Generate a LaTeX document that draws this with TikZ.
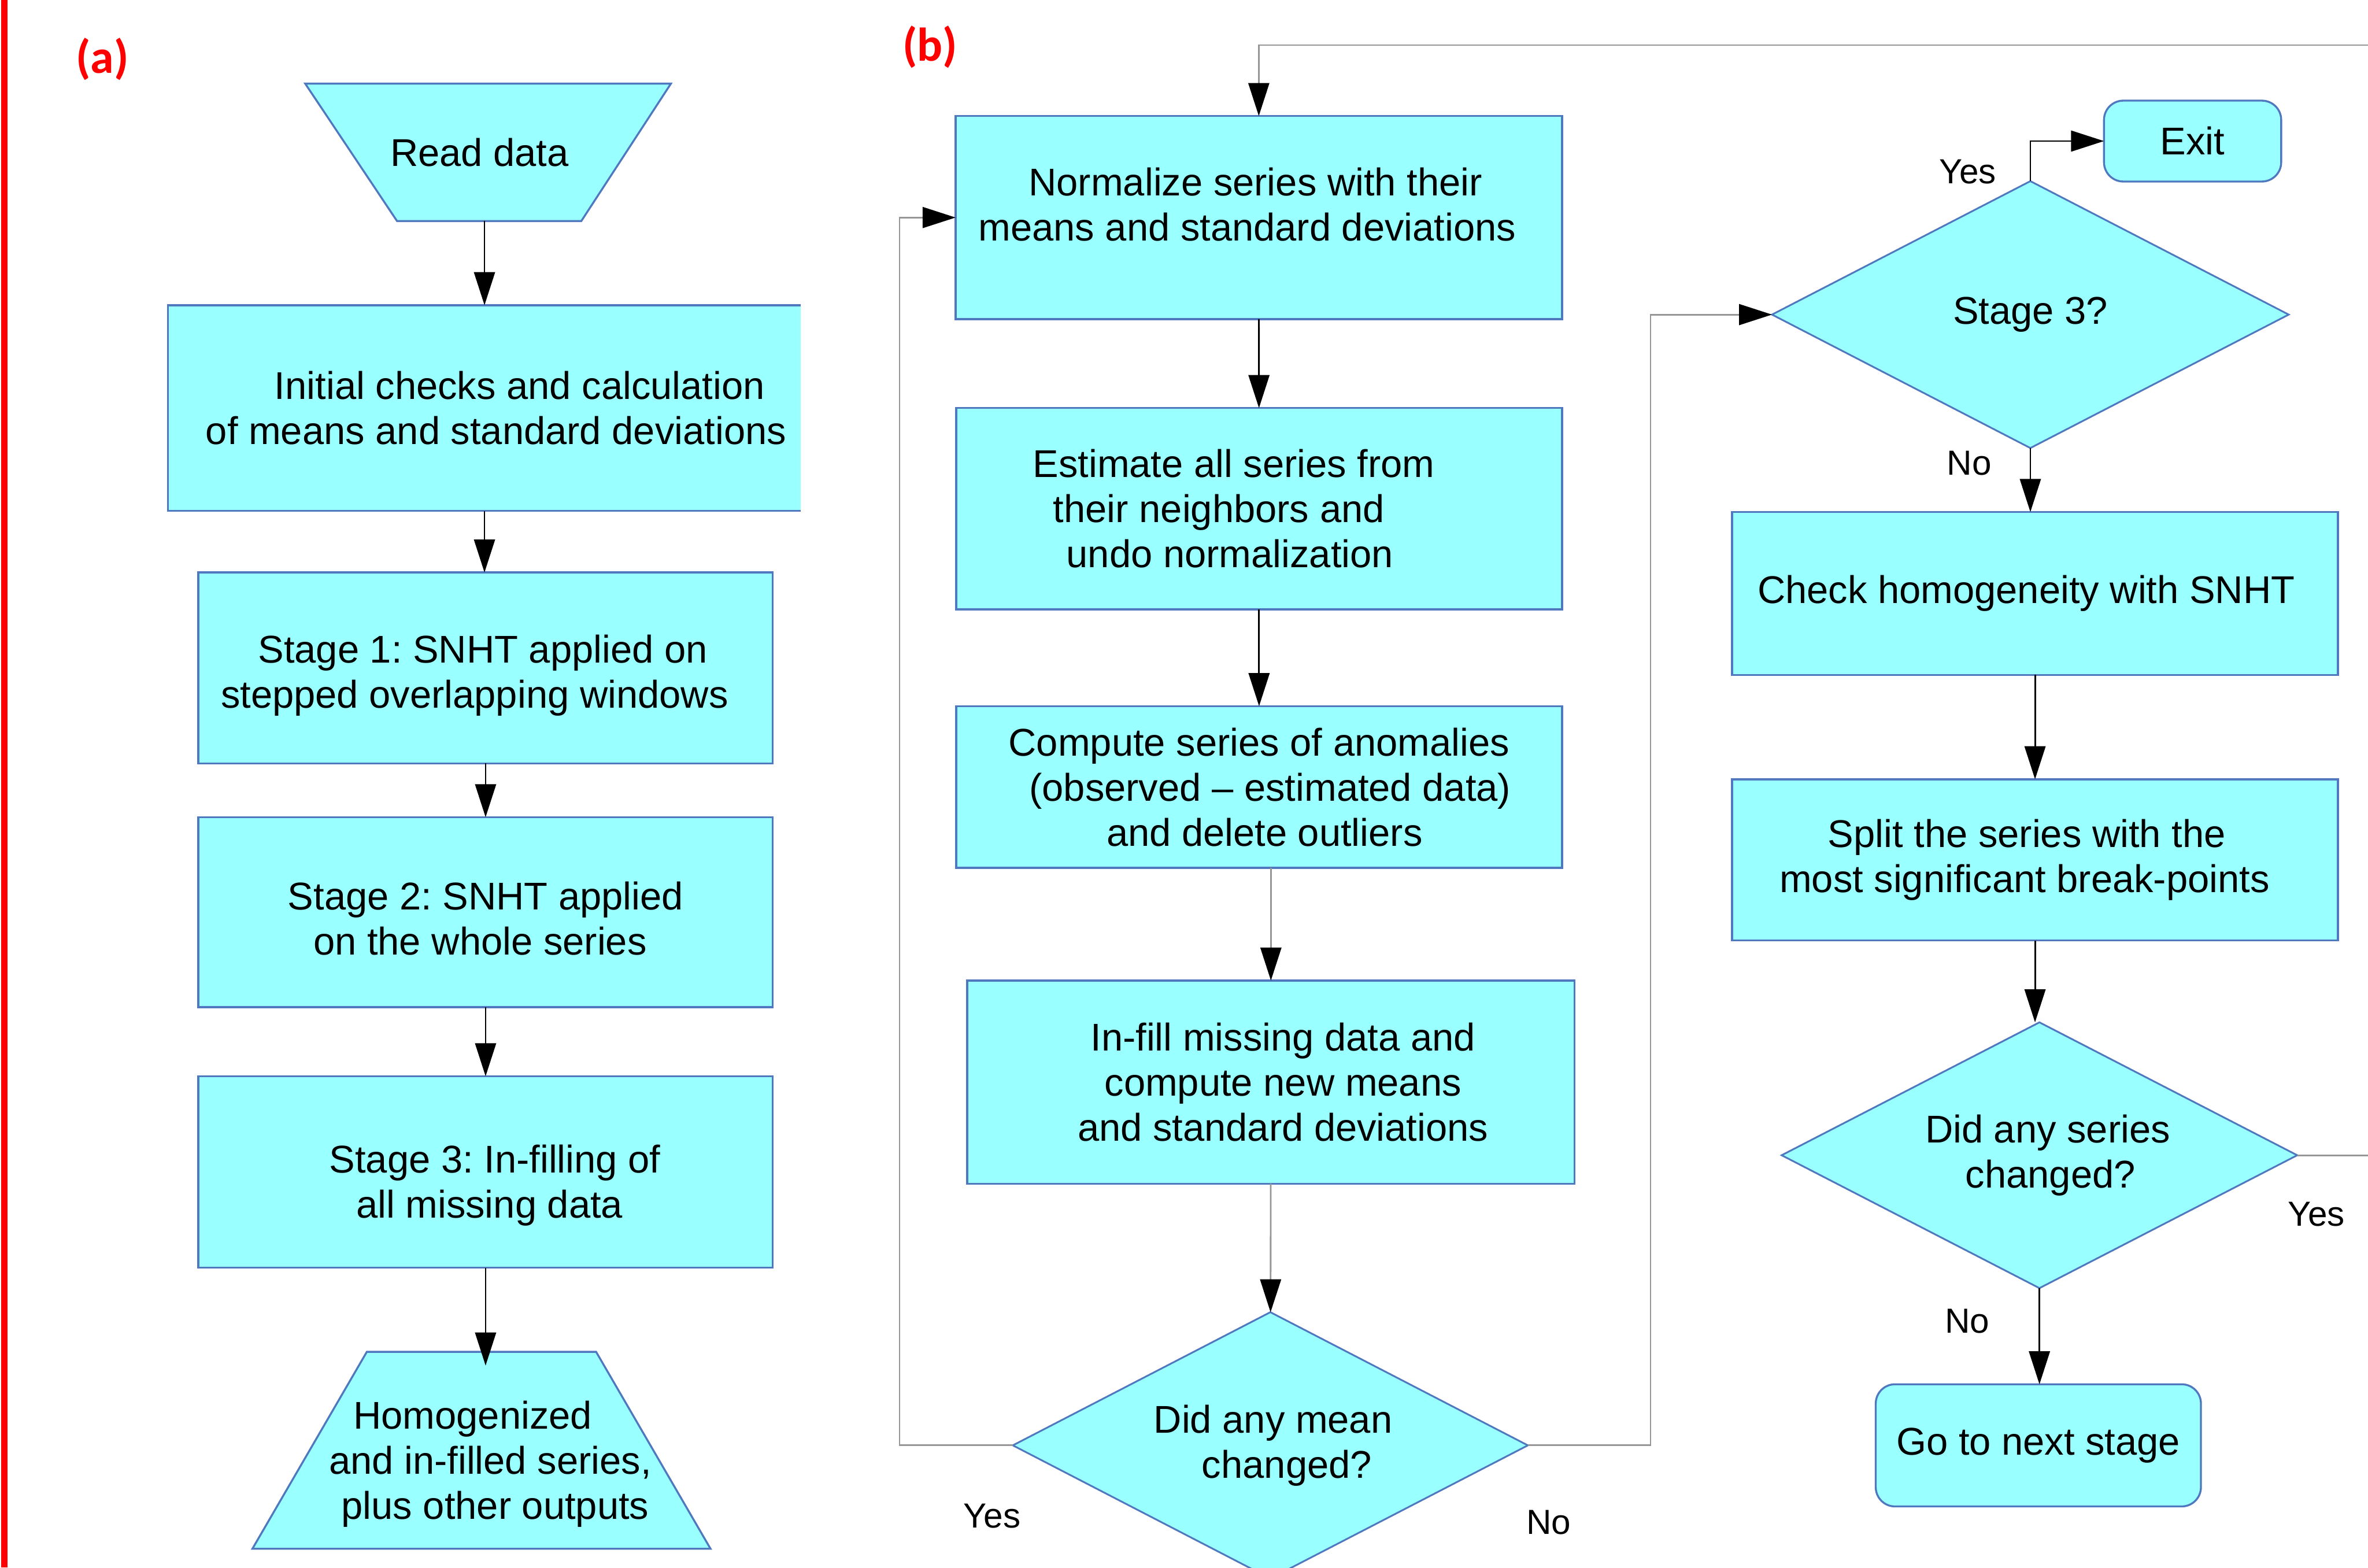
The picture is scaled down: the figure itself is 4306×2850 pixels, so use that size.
\documentclass[tikz,border=0pt]{standalone}
\usepackage{fontspec}
\setmainfont{Liberation Sans}
\newfontfamily\labfont{Carlito}
\usetikzlibrary{shapes.geometric,arrows.meta,calc}
\definecolor{boxfill}{RGB}{153,255,255}
\definecolor{boxline}{RGB}{80,120,190}
\definecolor{conngray}{RGB}{150,150,150}
\definecolor{labred}{RGB}{255,0,0}
\frenchspacing
\begin{document}
\frenchspacing
\begin{tikzpicture}[x=0.01cm,y=-0.01cm,
  every node/.style={outer sep=0pt},
  txt/.style={font=\frenchspacing\fontsize{20}{23.3}\selectfont, align=center},
  procbox/.style={txt, rectangle, draw=boxline, line width=1pt, fill=boxfill, inner sep=0pt},
  decis/.style={txt, diamond, aspect=2, draw=boxline, line width=0.9pt, fill=boxfill, inner sep=0pt},
  termbox/.style={procbox, rounded corners=0.35cm},
  trapshape/.style={draw=boxline, line width=1pt, fill=boxfill},
  lab/.style={font=\fontsize{18}{21}\selectfont, inner sep=0pt},
  panel/.style={font=\labfont\bfseries\fontsize{24.5}{28}\selectfont, text=labred, inner sep=0pt},
  tipk/.style={-{Triangle[length=0.6cm,width=0.38cm,color=black]}},
  conn/.style={draw=black, line width=0.85pt, tipk},
  conng/.style={draw=conngray, line width=0.85pt, tipk},
]
\useasboundingbox (0,0) rectangle (4306,2850);
\clip (0,0) rectangle (4306,2850);

\fill[labred] (2,0) rectangle (14,2850);
\node[panel] (pa) at (186,108) {(a)};
\node[panel] (pb) at (1691,85) {(b)};

% ---- left column ----
\draw[trapshape] (555,152) -- (1220,152) -- (1057,402) -- (722,402) -- cycle;
\node[txt, minimum width=6.65cm, minimum height=2.5cm, inner sep=0pt] (rd) at (872,277) {Read data};

\node[txt, fill=boxfill, minimum width=11.5cm, minimum height=3.74cm, inner sep=0pt] (ini) at (881,742)
  {\hspace*{1.28cm}Initial checks and calculation\\\hspace*{0.42cm}of means and standard deviations};
\draw[draw=boxline, line width=1pt] (ini.north east) -- (ini.north west) -- (ini.south west) -- (ini.south east);

\node[procbox, minimum width=10.44cm, minimum height=3.47cm] (s1) at (883,1214.5) {}; 
\node[txt, inner sep=0pt] (s1t) at (878,1228) {Stage 1: SNHT applied on\\\hspace*{-0.3cm}stepped overlapping windows};
\node[procbox, minimum width=10.44cm, minimum height=3.45cm] (s2) at (883,1658.5) {};
\node[txt, inner sep=0pt] (s2t) at (883,1670) {Stage 2: SNHT applied\\\hspace*{-0.2cm}on the whole series};
\node[procbox, minimum width=10.44cm, minimum height=3.48cm] (s3) at (883,2131) {};
\node[txt, inner sep=0pt] (s3t) at (890,2155) {\hspace*{0.2cm}Stage 3: In-filling of\\all missing data};

\draw[trapshape] (667,2458) -- (1084,2458) -- (1292,2816) -- (459,2816) -- cycle;
\node[txt, minimum width=8.33cm, minimum height=3.58cm, inner sep=0pt] (out) at (875.5,2662)
  {\hspace*{-0.32cm}Homogenized\\\hspace*{0.32cm}and in-filled series,\\\hspace*{0.5cm}plus other outputs};

% ---- middle column ----
\node[procbox, minimum width=11.02cm, minimum height=3.69cm] (norm) at (2289,395.5) {};
\node[txt, inner sep=0pt] (normt) at (2283,372) {Normalize series with their\\\hspace*{-0.3cm}means and standard deviations};
\node[procbox, minimum width=11.01cm, minimum height=3.66cm] (est) at (2289.5,925)
  {\hspace*{-0.92cm}Estimate all series from\\\hspace*{-1.46cm}their neighbors and\\\hspace*{-1.06cm}undo normalization};
\node[procbox, minimum width=11.01cm, minimum height=2.94cm] (comp) at (2289.5,1431)
  {Compute series of anomalies\\\hspace*{0.4cm}(observed – estimated data)\\\hspace*{0.2cm}and delete outliers};
\node[procbox, minimum width=11.04cm, minimum height=3.69cm] (infill) at (2311,1967.5)
  {\hspace*{0.44cm}In-fill missing data and\\\hspace*{0.44cm}compute new means\\\hspace*{0.44cm}and standard deviations};
\node[decis, minimum width=9.36cm, minimum height=4.84cm] (dmean) at (2310,2628) {\hspace*{0.1cm}Did any mean\\\hspace*{0.6cm}changed?};

% ---- right column ----
\node[termbox, minimum width=3.22cm, minimum height=1.47cm] (exit) at (3987,256.5) {Exit};
\node[decis, minimum width=9.39cm, minimum height=4.85cm] (dst3) at (3692,572) {Stage 3?};
\node[procbox, minimum width=11.01cm, minimum height=2.96cm] (check) at (3700.5,1079) {\hspace*{-0.32cm}Check homogeneity with SNHT};
\node[procbox, minimum width=11.01cm, minimum height=2.93cm] (split) at (3700.5,1563.5)
  {\hspace*{-0.3cm}Split the series with the\\\hspace*{-0.38cm}most significant break-points};
\node[decis, minimum width=9.37cm, minimum height=4.83cm] (dser) at (3708.5,2100.5) {\hspace*{0.3cm}Did any series\\\hspace*{0.4cm}changed?};
\node[termbox, minimum width=5.91cm, minimum height=2.22cm] (go) at (3706.5,2628) {Go to next stage};

% ---- connectors ----
\draw[conn] (ini.north |- rd.south) -- (ini.north);
\draw[conn] (ini.south) -- (ini.south |- s1.north);
\draw[conn] (s1) -- (s2);
\draw[conn] (s2) -- (s3);
\draw[conn] (s3.south) -- (s3.south |- out.north);

\draw[conn] (norm) -- (est);
\draw[conn] (est) -- (comp);
\draw[conng] (comp.south -| infill.north) -- (infill.north);
\draw[conng] (infill) -- (dmean);
\draw[conng] (dmean.west) -- ++(-206,0) |- (norm.west);
\draw[conng] (dmean.east) -- ++(223,0) |- (dst3.west);
\draw[conn] (dst3.north) |- (exit.west);
\draw[conn] (dst3.south) -- (dst3.south |- check.north);
\draw[conn] (check) -- (split);
\draw[conn] (split.south) -- (split.south |- dser.north);
\draw[conn] (dser.south) -- (dser.south |- go.north);
\coordinate (offr) at (4420,82);
\draw[conng] (dser.east) -| (offr) -| (norm.north);

% ---- labels ----
\node[lab] (y1) at (3578,312) {Yes};
\node[lab] (n1) at (3581,842) {No};
\node[lab] (y2) at (1804,2756) {Yes};
\node[lab] (n2) at (2816,2768) {No};
\node[lab] (y3) at (4212,2208) {Yes};
\node[lab] (n3) at (3577,2402) {No};
\end{tikzpicture}
\end{document}
